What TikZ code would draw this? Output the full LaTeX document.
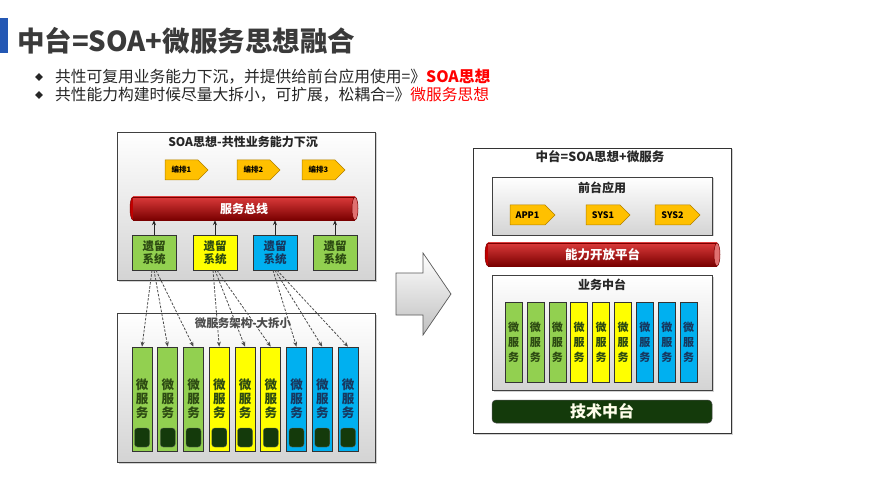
\documentclass[tikz,border=0pt]{standalone}
\usepackage{fontspec}
\setmainfont{Noto Sans CJK SC}
\usetikzlibrary{shapes.geometric,shapes.symbols,shadows,arrows.meta}
\definecolor{cgreen}{HTML}{92D050}
\definecolor{cyellow}{HTML}{FFFF00}
\definecolor{cblue}{HTML}{00B0F0}
\definecolor{corange}{HTML}{FFC000}
\definecolor{corangeb}{HTML}{B08000}
\definecolor{cred}{HTML}{C00000}
\definecolor{credtop}{HTML}{DA3A3A}
\definecolor{credbot}{HTML}{7A0000}
\definecolor{credend}{HTML}{E07070}
\definecolor{cdark}{HTML}{143A0B}
\definecolor{ctitle}{HTML}{3A3A3A}
\definecolor{cbar}{HTML}{2458B4}
\definecolor{ctxtg}{HTML}{2C4A12}
\definecolor{ctxtb}{HTML}{17375E}
\definecolor{cbright}{HTML}{FF0000}
% cylinder bus: #1 left x, #2 right x, #3 centre y, #4 half height
\newcommand{\mybuscyl}[4]{%
  \draw[draw=credbot, line width=0.5pt, fill=cred] (#1+3,#3) ellipse [x radius=3, y radius=#4];
  \fill[top color=credtop, middle color=cred, bottom color=credbot] (#1+3,#3-#4) rectangle (#2-3,#3+#4);
  \draw[credbot, line width=0.5pt] (#1+3,#3-#4) -- (#2-3,#3-#4) (#1+3,#3+#4) -- (#2-3,#3+#4);
  \draw[draw=credbot, line width=0.5pt, fill=credend] (#2-3,#3) ellipse [x radius=3, y radius=#4];
}
\tikzset{
  panel/.style={draw=black!75, line width=0.8pt, top color=white, bottom color=black!17,
    drop shadow={shadow xshift=1.5pt,shadow yshift=-1.5pt,opacity=0.35}},
  outerbox/.style={draw=black!80, line width=0.8pt, fill=white,
    drop shadow={shadow xshift=1.5pt,shadow yshift=-1.5pt,opacity=0.35}},
  ptitle/.style={font=\fontsize{12}{12}\selectfont\bfseries, text=black!85, inner sep=0pt},
  chev/.style={signal, signal to=east, signal pointer angle=90, fill=corange, draw=corangeb,
    line width=0.5pt, minimum height=20pt, inner sep=0pt, text=black},
  bus/.style={inner sep=0pt, minimum height=23pt, text=white, font=\fontsize{12}{12}\selectfont\bfseries},
  legacy/.style={draw=black!80, line width=0.6pt, minimum width=44pt, minimum height=35pt,
    inner sep=0pt, align=center, font=\fontsize{11.5}{13.5}\selectfont\bfseries},
  msl/.style={draw=black!80, line width=0.6pt, minimum width=20pt, minimum height=104pt,
    inner sep=0pt},
  msr/.style={draw=black!80, line width=0.6pt, minimum width=17pt, minimum height=80pt,
    inner sep=0pt, align=center, font=\fontsize{11}{15}\selectfont\bfseries},
  mstext/.style={inner sep=0pt, align=center, font=\fontsize{12.5}{14}\selectfont\bfseries},
  darksq/.style={fill=cdark, draw=black!60, line width=0.3pt, rounded corners=3pt,
    minimum width=15pt, minimum height=19pt, inner sep=0pt},
  uparrow/.style={-{Stealth[length=5pt,width=4pt]}, line width=0.7pt, black!85},
  dasharrow/.style={-{Stealth[length=5pt,width=4pt]}, line width=0.8pt, black!70,
    dash pattern=on 2.5pt off 1.5pt},
}
\begin{document}
\begin{tikzpicture}[x=1pt,y=-1pt]
\useasboundingbox (0,0) rectangle (880,494);
\fill[white] (0,0) rectangle (880,494);
% title
\fill[cbar] (0,18) rectangle (8,53);
\node[anchor=west, inner sep=0pt, text=ctitle, font=\fontsize{27.5}{27.5}\selectfont\bfseries] (title) at (17,41) {中台=SOA+微服务思想融合};
% bullets
\node[diamond, fill=black!85, inner sep=0pt, minimum width=8pt, minimum height=8pt] (d1) at (39,77) {};
\node[diamond, fill=black!85, inner sep=0pt, minimum width=8pt, minimum height=8pt] (d2) at (39,95) {};
\node[anchor=west, inner sep=0pt, text=black!85, font=\fontsize{15.75}{15.75}\selectfont] (b1) at (55,77) {共性可复用业务能力下沉，并提供给前台应用使用=》{\bfseries\color{cbright}SOA思想}};
\node[anchor=west, inner sep=0pt, text=black!85, font=\fontsize{15.75}{15.75}\selectfont] (b2) at (55,95) {共性能力构建时候尽量大拆小，可扩展，松耦合=》{\color{cbright}微服务思想}};

% left top panel
\node[panel, minimum width=258pt, minimum height=148pt] (soa) at (246,206) {};
\node[ptitle] (soat) at (243,142) {SOA思想-共性业务能力下沉};
\node[chev, minimum width=43pt, font=\fontsize{7.5}{7.5}\selectfont\bfseries] (c1) at (181.5,170) {编排1};
\node[chev, minimum width=43pt, font=\fontsize{7.5}{7.5}\selectfont\bfseries] (c2) at (253.5,170) {编排2};
\node[chev, minimum width=43pt, font=\fontsize{7.5}{7.5}\selectfont\bfseries] (c3) at (318.5,170) {编排3};
\mybuscyl{130}{358}{208.5}{11.5}
\node[bus, minimum width=228pt] (bus1) at (244,208.5) {服务总线};
\node[legacy, fill=cgreen, text=ctxtg] (l1) at (154,252.5) {遗留\\系统};
\node[legacy, fill=cyellow, text=ctxtg] (l2) at (215,252.5) {遗留\\系统};
\node[legacy, fill=cblue, text=ctxtb] (l3) at (275,252.5) {遗留\\系统};
\node[legacy, fill=cgreen, text=ctxtg] (l4) at (335,252.5) {遗留\\系统};
\foreach \i in {1,2,3,4}{
  \draw[uparrow] (l\i.north) -- (l\i.north |- bus1.south);
}

% left bottom panel
\node[panel, minimum width=258pt, minimum height=149pt] (ms) at (246,387.5) {};
\node[ptitle, font=\fontsize{11.5}{11.5}\selectfont\bfseries, text=black!70] (mst) at (243,323) {微服务架构-大拆小};
\foreach \i/\c/\t in {0/cgreen/ctxtg,1/cgreen/ctxtg,2/cgreen/ctxtg,3/cyellow/ctxtg,4/cyellow/ctxtg,5/cyellow/ctxtg,6/cblue/ctxtb,7/cblue/ctxtb,8/cblue/ctxtb}{
  \pgfmathsetmacro{\xx}{142+\i*25.75}
  \node[msl, fill=\c] (m\i) at (\xx,399) {};
  \node[mstext, text=\t] (mt\i) at (\xx,399) {微\\服\\务};
  \node[darksq] (ms\i) at (\xx,437.5) {};
}
% dashed fan arrows
\draw[dasharrow] ([xshift=-2pt]l1.south) -- (m0.north);
\draw[dasharrow] (l1.south) -- (m1.north);
\draw[dasharrow] ([xshift=2pt]l1.south) -- (m2.north);
\draw[dasharrow] ([xshift=-2pt]l2.south) -- (m3.north);
\draw[dasharrow] (l2.south) -- (m4.north);
\draw[dasharrow] ([xshift=2pt]l2.south) -- (m5.north);
\draw[dasharrow] ([xshift=-2pt]l3.south) -- (m6.north);
\draw[dasharrow] (l3.south) -- (m7.north);
\draw[dasharrow] ([xshift=2pt]l3.south) -- (m8.north);

% big arrow
\draw[draw=black!65, line width=0.7pt, top color=white, bottom color=black!25]
  (396,273) -- (423,273) -- (423,253) -- (451,294) -- (423,335) -- (423,315) -- (396,315) -- cycle;

% right side
\node[outerbox, minimum width=258pt, minimum height=285pt] (zt) at (602,290.5) {};
\node[ptitle, font=\fontsize{12.5}{12.5}\selectfont\bfseries] (ztt) at (600,157) {中台=SOA思想+微服务};
\node[panel, minimum width=220pt, minimum height=58pt] (qt) at (602,206) {};
\node[ptitle] (qtt) at (602,188) {前台应用};
\node[chev, minimum width=45pt, font=\fontsize{9}{9}\selectfont\bfseries] (a1) at (527.5,215) {APP1};
\node[chev, minimum width=44pt, font=\fontsize{9}{9}\selectfont\bfseries] (a2) at (603,215) {SYS1};
\node[chev, minimum width=45pt, font=\fontsize{9}{9}\selectfont\bfseries] (a3) at (672.5,215) {SYS2};
\mybuscyl{485}{720}{254.5}{11.5}
\node[bus, minimum width=235pt, font=\fontsize{12.5}{12.5}\selectfont\bfseries] (bus2) at (602.5,254.5) {能力开放平台};
\node[panel, minimum width=220pt, minimum height=115pt] (yw) at (602,332.5) {};
\node[ptitle] (ywt) at (602,285) {业务中台};
\foreach \i/\c/\t in {0/cgreen/ctxtg,1/cgreen/ctxtg,2/cgreen/ctxtg,3/cyellow/ctxtg,4/cyellow/ctxtg,5/cyellow/ctxtg,6/cblue/ctxtb,7/cblue/ctxtb,8/cblue/ctxtb}{
  \pgfmathsetmacro{\xx}{513.5+\i*21.9}
  \node[msr, fill=\c, text=\t] (r\i) at (\xx,342) {微\\服\\务};
}
\node[fill=cdark, draw=black!70, line width=0.5pt, rounded corners=4pt, minimum width=220pt, minimum height=23pt,
  inner sep=0pt, text=white!92!yellow, font=\fontsize{16}{16}\selectfont\bfseries] (js) at (602,411.5) {技术中台};
\end{tikzpicture}
\end{document}
